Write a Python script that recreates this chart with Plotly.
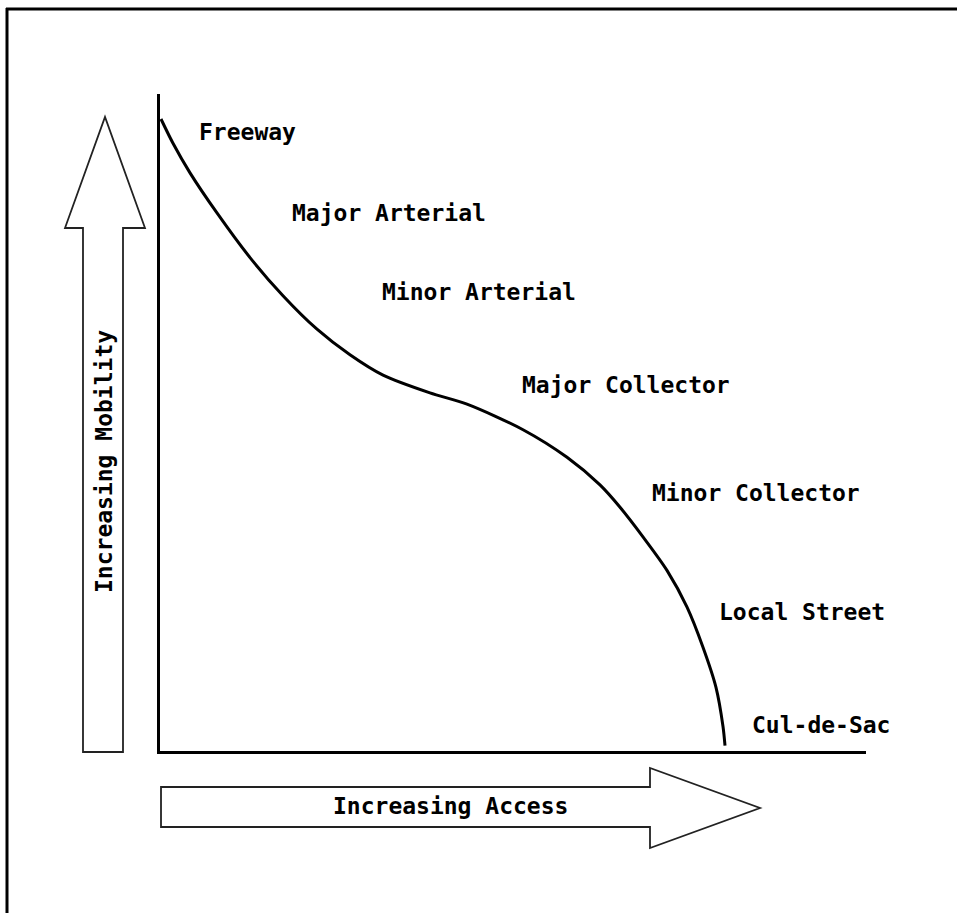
import plotly.graph_objects as go

# ---- data (access 0..100, mobility 0..100) ----
access = [0.14, 1.84, 4.25, 8.07, 12.75, 17.42, 22.24, 26.91, 31.59, 38.24, 43.48,
          51.42, 57.65, 62.32, 65.16, 68.41, 71.81, 74.65, 76.91, 78.75, 79.75, 80.03]
mobility = [96.2, 92.5, 88.0, 81.9, 75.1, 69.3, 64.2, 60.3, 57.2, 54.5, 52.8,
            48.9, 44.7, 40.5, 37.1, 32.6, 27.5, 21.9, 15.8, 9.7, 3.7, 0.8]

class_names = ["Freeway", "Major Arterial", "Minor Arterial", "Major Collector",
               "Minor Collector", "Local Street", "Cul-de-Sac"]
class_access = [5.2, 18.4, 31.2, 51.0, 69.4, 78.9, 83.6]
class_mobility = [94.2, 81.9, 69.9, 55.7, 39.3, 21.1, 3.9]

x_title = "Increasing Access"
y_title = "Increasing Mobility"

# ---- layout geometry ----
W, H = 957, 913
L, R, T, B = 160, 866, 94, 751   # plot area in pixels


def px(x):
    return (x - L) / (R - L)


def py(y):
    return (B - y) / (B - T)


def path(points):
    return "M " + " L ".join(f"{px(a):.5f},{py(b):.5f}" for a, b in points) + " Z"


FONT = dict(family="DejaVu Sans Mono", size=23, color="black", weight="bold")

fig = go.Figure()
fig.add_trace(go.Scatter(x=access, y=mobility, mode="lines",
                         line=dict(color="black", width=3, shape="spline", smoothing=0.8),
                         hoverinfo="skip", showlegend=False))

for name, a, m in zip(class_names, class_access, class_mobility):
    fig.add_annotation(x=a, y=m, xref="x", yref="y", text=name, showarrow=False,
                       xanchor="left", yanchor="middle", font=FONT)

up_arrow = [(83, 752), (83, 228), (65, 228), (105, 117), (145, 228), (123, 228), (123, 752)]
right_arrow = [(161, 787), (650, 787), (650, 768), (760, 808), (650, 848), (650, 827), (161, 827)]

shapes = [
    dict(type="path", xref="paper", yref="paper", path=path(up_arrow),
         line=dict(color="#222", width=1.8), fillcolor="white"),
    dict(type="path", xref="paper", yref="paper", path=path(right_arrow),
         line=dict(color="#222", width=1.8), fillcolor="white"),
    # outer frame (cropped on right and bottom)
    dict(type="line", xref="paper", yref="paper", x0=px(6), x1=px(960), y0=py(9), y1=py(9),
         line=dict(color="black", width=3)),
    dict(type="line", xref="paper", yref="paper", x0=px(7), x1=px(7), y0=py(8), y1=py(920),
         line=dict(color="black", width=3)),
]

fig.add_annotation(x=px(450), y=py(806), xref="paper", yref="paper", text=x_title,
                   showarrow=False, xanchor="center", yanchor="middle", font=FONT)
fig.add_annotation(x=px(104), y=py(462), xref="paper", yref="paper", text=y_title,
                   showarrow=False, xanchor="center", yanchor="middle", textangle=-90, font=FONT)

fig.update_layout(
    width=W, height=H,
    margin=dict(l=L, r=W - R, t=T, b=H - B, pad=0),
    paper_bgcolor="white", plot_bgcolor="white",
    shapes=shapes,
    xaxis=dict(range=[0, 100], showgrid=False, zeroline=False, showticklabels=False,
               ticks="", showline=True, linecolor="black", linewidth=3, fixedrange=True),
    yaxis=dict(range=[0, 100], showgrid=False, zeroline=False, showticklabels=False,
               ticks="", showline=True, linecolor="black", linewidth=3, fixedrange=True),
)

fig.write_html("out.html", config={"displayModeBar": False},
               post_script="document.body.style.margin='0';document.body.style.overflow='hidden';")
